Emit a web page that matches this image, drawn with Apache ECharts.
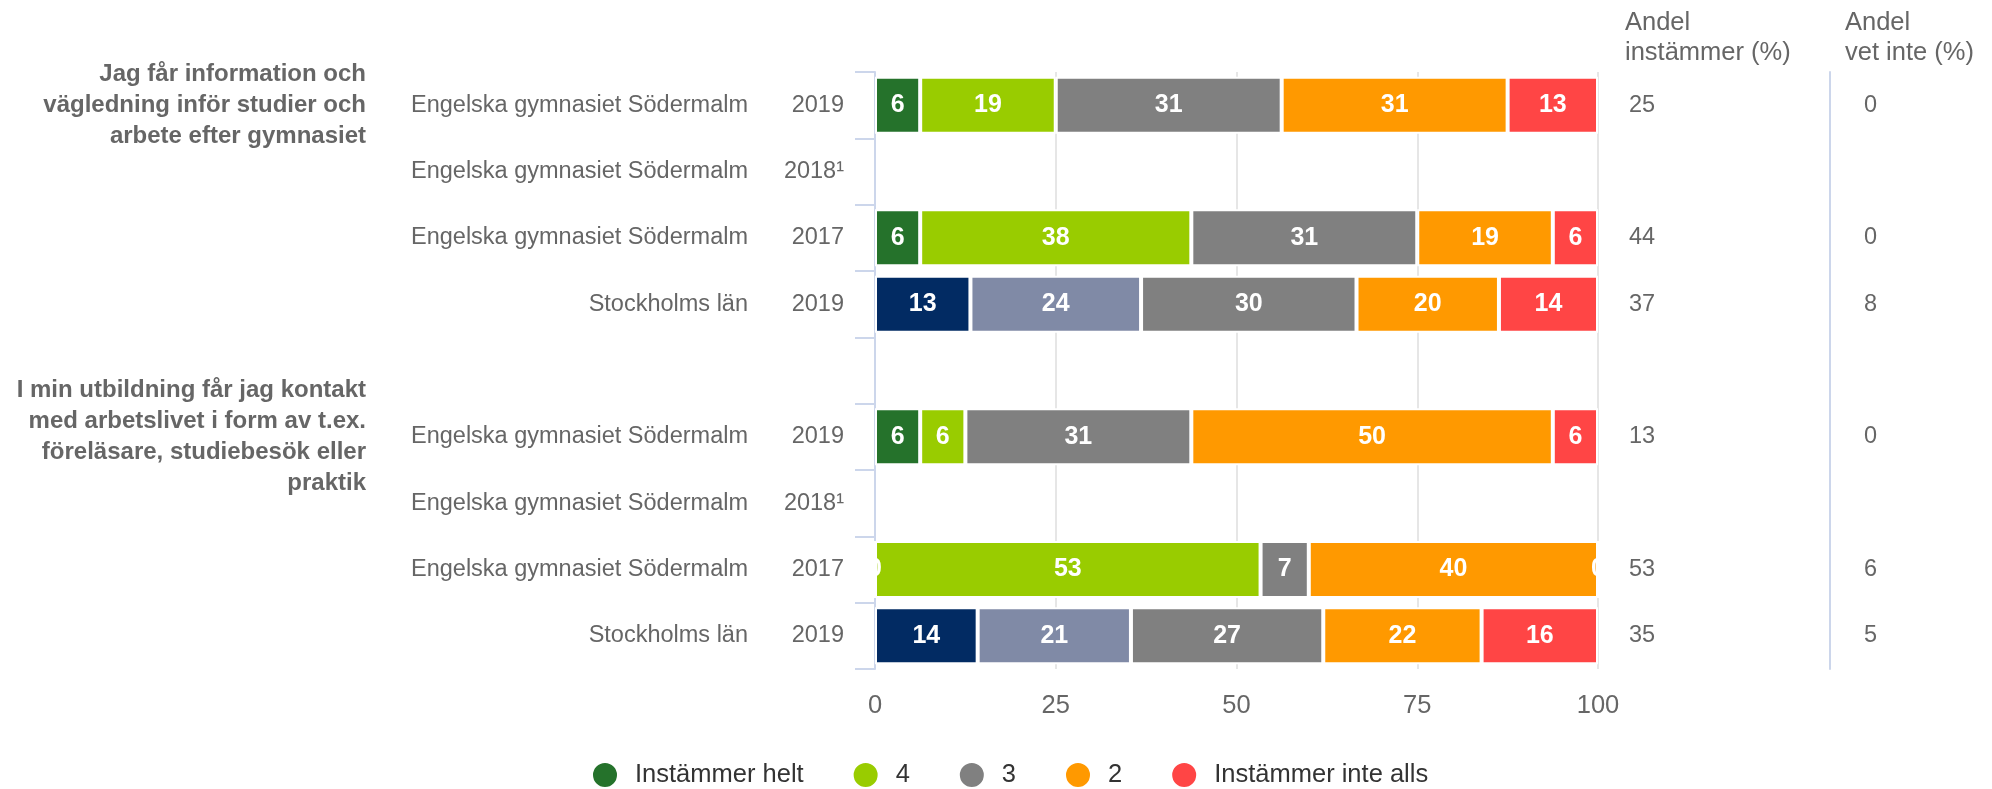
<!DOCTYPE html>
<html>
<head>
<meta charset="utf-8">
<title>Andel instämmer</title>
<script src="https://cdn.jsdelivr.net/npm/echarts@6/dist/echarts.min.js"></script>
<style>
  html, body { margin: 0; padding: 0; background: #fff; }
  #content { width: 1992px; height: 789px; }
</style>
</head>
<body>
<div id="content"></div>
<script>
/* data, rows from top to bottom */
var questions = [
	'Jag får information och\nvägledning inför studier och\narbete efter gymnasiet', '', '', '', '',
	'I min utbildning får jag kontakt\nmed arbetslivet i form av t.ex.\nföreläsare, studiebesök eller\npraktik', '', '', ''
];
var units = [
	'Engelska gymnasiet Södermalm', 'Engelska gymnasiet Södermalm', 'Engelska gymnasiet Södermalm', 'Stockholms län', '',
	'Engelska gymnasiet Södermalm', 'Engelska gymnasiet Södermalm', 'Engelska gymnasiet Södermalm', 'Stockholms län'
];
var years = ['2019', '2018¹', '2017', '2019', '', '2019', '2018¹', '2017', '2019'];

var seriesNames = ['Instämmer helt', '4', '3', '2', 'Instämmer inte alls'];
var helt    = [6.25,  null, 6.25,  13.2, null, 6.25,  null, 0,     14.2];
var fyra    = [18.75, null, 37.5,  23.6, null, 6.25,  null, 53.33, 21.2];
var tre     = [31.25, null, 31.25, 29.8, null, 31.25, null, 6.67,  26.6];
var tva     = [31.25, null, 18.75, 19.7, null, 50,    null, 40,    21.9];
var inteAlls = [12.5, null, 6.25,  13.7, null, 6.25,  null, 0,     16.1];

var andelInstammer = ['25', '', '44', '37', '', '13', '', '53', '35'];
var andelVetInte   = ['0',  '', '0',  '8',  '', '0',  '', '6',  '5'];

var xTicks = [0, 25, 50, 75, 100];

window.onload = function(){
	var font = '"Liberation Sans", Arial, Helvetica, sans-serif';
	var colors = ['#25722b', '#99cc00', '#808080', '#ff9900', '#ff4545'];
	// Stockholms län uses its own colours for the first two parts
	var lanColors = ['#022b63', '#808aa6'];
	var lanRows = [3, 8];

	function buildData(values, si){
		return values.map(function(v, i){
			if (si < 2 && lanRows.indexOf(i) >= 0) {
				return { value: v, itemStyle: { color: lanColors[si] } };
			}
			return v;
		});
	}

	var all = [helt, fyra, tre, tva, inteAlls];
	var series = all.map(function(vals, si){
		return {
			name: seriesNames[si],
			type: 'bar',
			stack: 'total',
			barWidth: 57,
			data: buildData(vals, si),
			itemStyle: { color: colors[si], borderColor: '#fff', borderWidth: 2 },
			label: {
				show: true,
				position: 'inside',
				color: '#fff',
				fontFamily: font,
				fontWeight: 'bold',
				fontSize: 25,
				formatter: function(p){
					if (p.value == null) return '';
					return Math.round(p.value);
				}
			},
			emphasis: { disabled: true }
		};
	});

	function sideAxis(data, position, margin, extra){
		var ax = {
			type: 'category',
			inverse: true,
			position: position,
			data: data,
			axisLine: { show: false, onZero: false },
			axisTick: { show: false },
			splitLine: { show: false },
			axisLabel: {
				interval: 0,
				margin: margin,
				color: '#666',
				fontFamily: font,
				fontSize: 23.5,
				padding: [4, 0, 0, 0]
			}
		};
		if (extra) extra(ax);
		return ax;
	}

	var headStyle = { color: '#666', fontFamily: font, fontSize: 25.5, fontWeight: 'normal', lineHeight: 30 };

	var myChart = echarts.init(document.getElementById('content'));
	var option = {
		backgroundColor: '#fff',
		animation: false,
		title: [
			{ text: 'Andel\ninstämmer (%)', left: 1625, top: 8, padding: 0, textStyle: headStyle },
			{ text: 'Andel\nvet inte (%)', left: 1845, top: 8, padding: 0, textStyle: headStyle }
		],
		legend: {
			left: 591,
			top: 761,
			icon: 'circle',
			itemWidth: 50,
			itemHeight: 26,
			itemGap: 48,
			padding: 0,
			textStyle: { color: '#333', fontFamily: font, fontSize: 25.5 },
			data: seriesNames
		},
		grid: { left: 875, right: 394, top: 72, height: 597 },
		xAxis: {
			type: 'value',
			min: xTicks[0],
			max: xTicks[xTicks.length - 1],
			interval: xTicks[1] - xTicks[0],
			axisLine: { show: false },
			axisTick: { show: false },
			splitLine: { lineStyle: { color: '#e6e6e6', width: 2 } },
			axisLabel: { margin: 24, color: '#666', fontFamily: font, fontSize: 25.5 }
		},
		yAxis: [
			sideAxis(units, 'left', 127, function(ax){
				ax.axisLine = { show: true, onZero: false, lineStyle: { color: '#ccd6eb', width: 2 } };
				ax.axisTick = { show: true, length: 20, lineStyle: { color: '#ccd6eb', width: 2 } };
			}),
			sideAxis(years, 'left', 31),
			sideAxis(questions, 'left', 509, function(ax){
				ax.axisLabel.fontWeight = 'bold';
				ax.axisLabel.fontSize = 24;
				ax.axisLabel.lineHeight = 31;
			}),
			sideAxis(andelInstammer, 'right', 31),
			sideAxis(andelVetInte, 'right', 34, function(ax){
				ax.offset = 232;
				ax.axisLine = { show: true, onZero: false, lineStyle: { color: '#ccd6eb', width: 2 } };
			})
		],
		series: series
	};
	myChart.setOption(option);
};
</script>
</body>
</html>
